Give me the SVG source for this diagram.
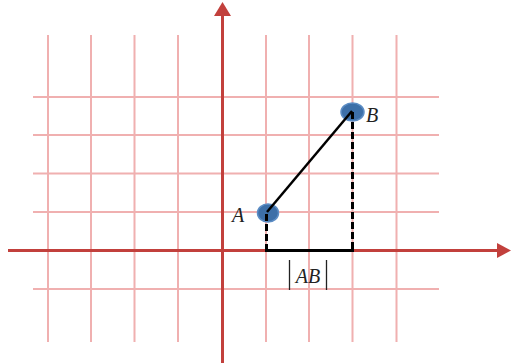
<svg xmlns="http://www.w3.org/2000/svg" width="511" height="364" viewBox="0 0 511 364">
<defs>
<style>
.grid{stroke:#f0b0b0;stroke-width:2;fill:none}
.axis{stroke:#c2403c;stroke-width:3;fill:none}
.head{fill:#c2403c}
.seg{stroke:#000;stroke-width:2.5;fill:none}
.dash{stroke:#000;stroke-width:3;stroke-dasharray:7 3;fill:none}
.pt{fill:#3d6fa8;stroke:#5b8cc4;stroke-width:1.5}
.lbl{font-family:"Liberation Serif",serif;font-style:italic;font-size:20px;fill:#222}
</style>
<filter id="sh" x="-10%" y="-50%" width="120%" height="300%"><feGaussianBlur stdDeviation="1.5"/></filter>
</defs>
<rect width="511" height="364" fill="#fff"/>
<g id="grid">
<path class="grid" d="M48 35V342M91 35V342M134.5 35V342M178 35V342M266 35V342M309 35V342M352.5 35V342M396.5 35V342"/>
<path class="grid" d="M33 97H439M33 135H439M33 173.5H439M33 212H439M33 289H439"/>
</g>
<g id="axes">
<path class="axis" d="M8 250.5H498"/>
<polygon class="head" points="497,243 511,250.5 497,258"/>
<path class="axis" d="M222.5 363V15"/>
<polygon class="head" points="214,16 222.5,2 231,16"/>
</g>
<g id="nodeA">
<ellipse class="pt" cx="268" cy="213" rx="10.5" ry="9"/>
<text class="lbl" x="232" y="222">A</text>
</g>
<g id="nodeB">
<ellipse class="pt" cx="352.5" cy="112" rx="11.5" ry="9"/>
<text class="lbl" x="366" y="122">B</text>
</g>
<g id="connectors">
<path d="M266 252.5H353" stroke="#888" stroke-width="3" filter="url(#sh)" opacity="0.6"/>
<path class="seg" d="M267 212L352 111"/>
<path class="dash" d="M352.5 112V250"/>
<path class="dash" d="M266.5 214V250"/>
<path d="M265 250.5H354" stroke="#000" stroke-width="3"/>
</g>
<g id="labelAB">
<path d="M289.5 260V290M326.5 260V290" stroke="#222" stroke-width="1.3"/>
<text class="lbl" x="308" y="283" text-anchor="middle">AB</text>
</g>
</svg>
